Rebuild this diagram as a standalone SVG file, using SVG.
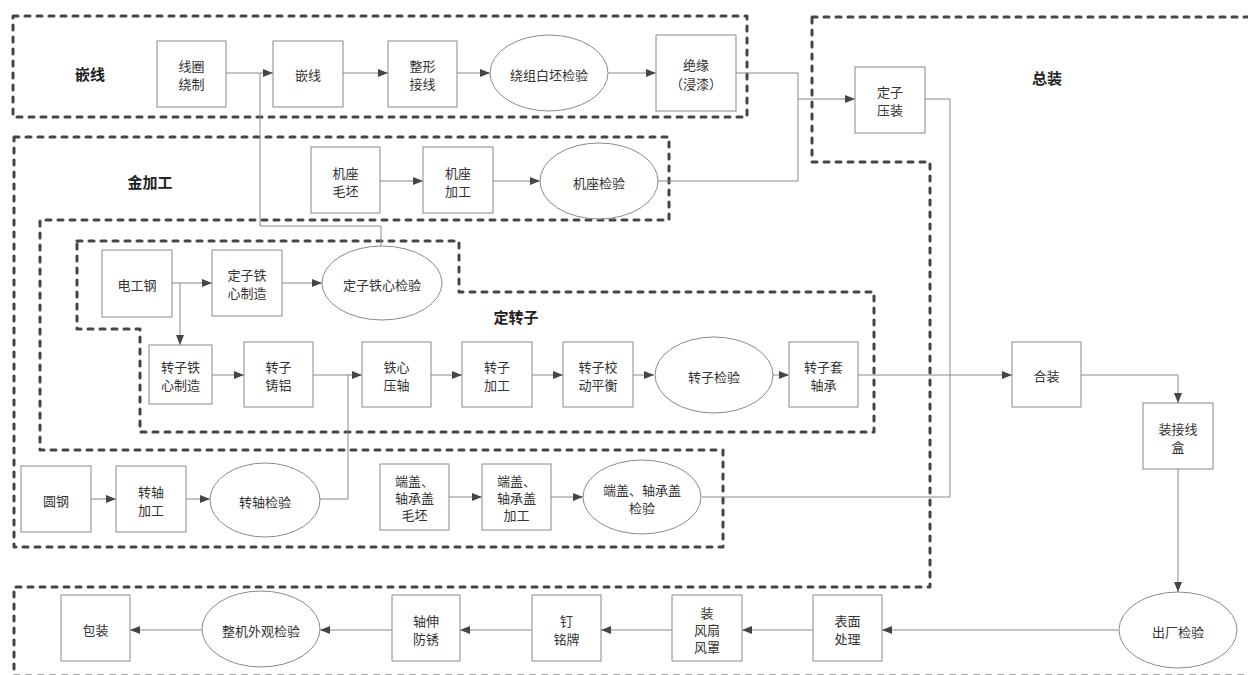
<svg xmlns="http://www.w3.org/2000/svg" width="1248" height="675" viewBox="0 0 1248 675">
<style>
.bg{fill:#fff}
.grp{fill:none;stroke:#454545;stroke-width:3;stroke-dasharray:5 7;stroke-linecap:round;stroke-linejoin:round}
.n{fill:#fff;stroke:#8a8a8a;stroke-width:1}
.t{font-family:"Noto Sans CJK SC","Liberation Sans",sans-serif;font-size:13px;fill:#333;text-anchor:middle;dominant-baseline:central}
.g{font-family:"Noto Sans CJK SC","Liberation Sans",sans-serif;font-size:15px;font-weight:bold;fill:#222;text-anchor:middle;dominant-baseline:central}
.c{fill:none;stroke:#8a8a8a;stroke-width:1}
.a{marker-end:url(#ah)}
</style>
<defs>
<marker id="ah" markerUnits="userSpaceOnUse" markerWidth="11" markerHeight="9" refX="10" refY="4" orient="auto">
<path d="M0,0 L10,4 L0,8 z" fill="#454545"/>
</marker>
</defs>
<rect class="bg" x="0" y="0" width="1248" height="675"/>

<g id="groups">
<rect id="grp-qianxian" class="grp" x="13" y="16" width="734" height="101"/>
<polygon id="grp-jinjiagong" class="grp" points="14,137 669,137 669,220 40,220 40,450 723,450 723,547 14,547"/>
<polygon id="grp-dingzhuanzi" class="grp" points="77,241 459,241 459,292 874,292 874,432 140,432 140,329 77,329"/>
<polygon id="grp-zongzhuang" class="grp" points="812,17 1262,17 1262,676 14,676 14,587 930,587 930,162 812,162"/>
<text class="g" x="90" y="73">嵌线</text>
<text class="g" x="150" y="181">金加工</text>
<text class="g" x="516" y="316">定转子</text>
<text class="g" x="1047" y="77">总装</text>
</g>

<g id="connectors">
<path class="c a" d="M226,73 H273"/>
<path class="c" d="M381,246 V226 H260 V73"/>
<path class="c a" d="M343,73 H388"/>
<path class="c a" d="M457,73 H490"/>
<path class="c a" d="M608,73 H656"/>
<path class="c a" d="M736,73 H798 V99 H855"/>
<path class="c" d="M658,181 H798 V99"/>
<path class="c a" d="M380,181 H423"/>
<path class="c a" d="M493,181 H540"/>
<path class="c a" d="M172,283 H212"/>
<path class="c a" d="M180,283 V345"/>
<path class="c a" d="M282,283 H322"/>
<path class="c a" d="M212,375 H244"/>
<path class="c a" d="M313,375 H362"/>
<path class="c" d="M319,499 H348 V375"/>
<path class="c a" d="M431,375 H462"/>
<path class="c a" d="M532,375 H563"/>
<path class="c a" d="M633,375 H654"/>
<path class="c a" d="M773,375 H789"/>
<path class="c a" d="M858,375 H1012"/>
<path class="c" d="M925,99 H950 V497"/>
<path class="c" d="M702,497 H950"/>
<path class="c a" d="M1081,375 H1178 V403"/>
<path class="c a" d="M1178,469 V592"/>
<path class="c a" d="M1118,630 H882"/>
<path class="c a" d="M813,630 H742"/>
<path class="c a" d="M672,630 H601"/>
<path class="c a" d="M532,630 H460"/>
<path class="c a" d="M392,630 H320"/>
<path class="c a" d="M202,630 H130"/>
<path class="c a" d="M91,499 H116"/>
<path class="c a" d="M186,499 H210"/>
<path class="c a" d="M449,497 H482"/>
<path class="c a" d="M551,497 H583"/>
</g>

<g id="n-xianquan"><rect class="n" x="157" y="41" width="69" height="66"/><text class="t" x="191.5" y="65">线圈</text><text class="t" x="191.5" y="83">绕制</text></g>
<g id="n-qianxian"><rect class="n" x="273" y="41" width="70" height="66"/><text class="t" x="308" y="74">嵌线</text></g>
<g id="n-zhengxing"><rect class="n" x="388" y="41" width="69" height="66"/><text class="t" x="422.5" y="65">整形</text><text class="t" x="422.5" y="83">接线</text></g>
<g id="n-raozu"><ellipse class="n" cx="549" cy="73" rx="59" ry="38"/><text class="t" x="549" y="74">绕组白坯检验</text></g>
<g id="n-jueyuan"><rect class="n" x="656" y="35" width="80" height="76"/><text class="t" x="696" y="64">绝缘</text><text class="t" x="696" y="83">（浸漆）</text></g>
<g id="n-dingziyazhuang"><rect class="n" x="855" y="67" width="70" height="66"/><text class="t" x="890" y="91">定子</text><text class="t" x="890" y="109">压装</text></g>

<g id="n-jizuomaopi"><rect class="n" x="311" y="147" width="69" height="66"/><text class="t" x="345.5" y="172">机座</text><text class="t" x="345.5" y="190">毛坯</text></g>
<g id="n-jizuojiagong"><rect class="n" x="423" y="147" width="70" height="66"/><text class="t" x="458" y="172">机座</text><text class="t" x="458" y="190">加工</text></g>
<g id="n-jizuojianyan"><ellipse class="n" cx="599" cy="181" rx="59" ry="38"/><text class="t" x="599" y="182">机座检验</text></g>

<g id="n-diangonggang"><rect class="n" x="102" y="250" width="70" height="67"/><text class="t" x="137" y="284">电工钢</text></g>
<g id="n-dingzitiexin"><rect class="n" x="212" y="250" width="70" height="66"/><text class="t" x="247" y="274">定子铁</text><text class="t" x="247" y="292">心制造</text></g>
<g id="n-dingzijianyan"><ellipse class="n" cx="382" cy="283" rx="60" ry="37"/><text class="t" x="382" y="284">定子铁心检验</text></g>

<g id="n-zhuanzitiexin"><rect class="n" x="149" y="345" width="63" height="59"/><text class="t" x="180.5" y="366">转子铁</text><text class="t" x="180.5" y="384">心制造</text></g>
<g id="n-zhulv"><rect class="n" x="244" y="342" width="69" height="65"/><text class="t" x="278.5" y="366">转子</text><text class="t" x="278.5" y="384">铸铝</text></g>
<g id="n-yazhou"><rect class="n" x="362" y="342" width="69" height="65"/><text class="t" x="396.5" y="366">铁心</text><text class="t" x="396.5" y="384">压轴</text></g>
<g id="n-zhuanzijiagong"><rect class="n" x="462" y="342" width="70" height="65"/><text class="t" x="497" y="366">转子</text><text class="t" x="497" y="384">加工</text></g>
<g id="n-pingheng"><rect class="n" x="563" y="342" width="70" height="65"/><text class="t" x="598" y="366">转子校</text><text class="t" x="598" y="384">动平衡</text></g>
<g id="n-zhuanzijianyan"><ellipse class="n" cx="714" cy="375" rx="59" ry="38"/><text class="t" x="714" y="376">转子检验</text></g>
<g id="n-taozhoucheng"><rect class="n" x="789" y="342" width="69" height="65"/><text class="t" x="823.5" y="366">转子套</text><text class="t" x="823.5" y="384">轴承</text></g>

<g id="n-yuangang"><rect class="n" x="21" y="466" width="70" height="66"/><text class="t" x="56" y="500">圆钢</text></g>
<g id="n-zhuanzhou"><rect class="n" x="116" y="466" width="70" height="66"/><text class="t" x="151" y="491">转轴</text><text class="t" x="151" y="509">加工</text></g>
<g id="n-zhuanzhoujianyan"><ellipse class="n" cx="265" cy="500" rx="55" ry="37"/><text class="t" x="265" y="501">转轴检验</text></g>
<g id="n-duangaimaopi"><rect class="n" x="380" y="464" width="69" height="66"/><text class="t" x="414.5" y="480">端盖、</text><text class="t" x="414.5" y="497">轴承盖</text><text class="t" x="414.5" y="514">毛坯</text></g>
<g id="n-duangaijiagong"><rect class="n" x="482" y="464" width="69" height="66"/><text class="t" x="516.5" y="480">端盖、</text><text class="t" x="516.5" y="497">轴承盖</text><text class="t" x="516.5" y="514">加工</text></g>
<g id="n-duangaijianyan"><ellipse class="n" cx="642" cy="497" rx="59" ry="37"/><text class="t" x="642" y="489">端盖、轴承盖</text><text class="t" x="642" y="507">检验</text></g>

<g id="n-hezhuang"><rect class="n" x="1012" y="342" width="69" height="65"/><text class="t" x="1046.5" y="375">合装</text></g>
<g id="n-jiexianhe"><rect class="n" x="1143" y="403" width="70" height="66"/><text class="t" x="1178" y="428">装接线</text><text class="t" x="1178" y="446">盒</text></g>
<g id="n-chuchang"><ellipse class="n" cx="1178" cy="630" rx="59" ry="38"/><text class="t" x="1178" y="631">出厂检验</text></g>
<g id="n-biaomian"><rect class="n" x="813" y="595" width="69" height="66"/><text class="t" x="847.5" y="620">表面</text><text class="t" x="847.5" y="638">处理</text></g>
<g id="n-fengshan"><rect class="n" x="672" y="595" width="70" height="66"/><text class="t" x="707" y="612">装</text><text class="t" x="707" y="629">风扇</text><text class="t" x="707" y="646">风罩</text></g>
<g id="n-mingpai"><rect class="n" x="532" y="595" width="69" height="66"/><text class="t" x="566.5" y="620">钉</text><text class="t" x="566.5" y="638">铭牌</text></g>
<g id="n-fangxiu"><rect class="n" x="392" y="595" width="68" height="66"/><text class="t" x="426" y="620">轴伸</text><text class="t" x="426" y="638">防锈</text></g>
<g id="n-waiguan"><ellipse class="n" cx="261" cy="629" rx="59" ry="38"/><text class="t" x="261" y="630">整机外观检验</text></g>
<g id="n-baozhuang"><rect class="n" x="61" y="595" width="69" height="66"/><text class="t" x="95.5" y="629">包装</text></g>
</svg>
